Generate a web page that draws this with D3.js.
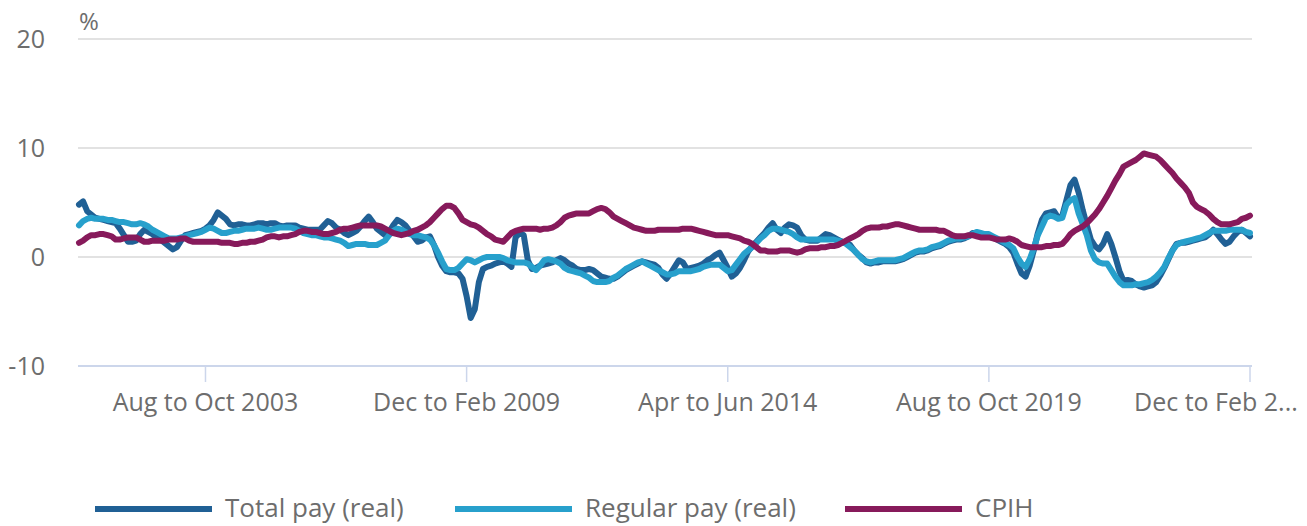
<!DOCTYPE html>
<html>
<head>
<meta charset="utf-8">
<script src="https://cdn.jsdelivr.net/npm/d3@7"></script>
<style>
  body { margin: 0; background: #fff; }
  svg text { font-family: "Open Sans", sans-serif; }
</style>
</head>
<body>
<div id="viz"></div>
<script>
// first period is Jan to Mar 2001, monthly rolling 3-month periods to Dec to Feb 2025
var startYear = 2001, startEndMonth = 3; // end month of first period
var months = ['Jan','Feb','Mar','Apr','May','Jun','Jul','Aug','Sep','Oct','Nov','Dec'];

var totalPay = [
  4.8,5.1,4.2,3.9,3.6,3.5,3.4,3.3,3.2,3.1,
  2.6,2.0,1.4,1.4,1.5,2.1,2.5,2.3,2.1,1.8,1.6,1.3,
  1.0,0.7,0.9,1.5,2.0,2.1,2.2,2.3,2.4,2.6,2.9,3.4,
  4.1,3.8,3.5,3.0,2.9,3.0,3.0,2.9,2.9,3.0,3.1,3.1,
  3.0,3.1,3.1,2.9,2.8,2.9,2.9,2.9,2.7,2.6,2.5,2.5,
  2.5,2.5,2.9,3.3,3.1,2.7,2.5,2.2,2.0,2.2,2.4,2.8,
  3.3,3.7,3.2,2.6,2.3,2.0,2.3,2.9,3.4,3.2,2.9,2.4,
  1.9,1.4,1.5,1.8,1.9,1.1,0.0,-0.8,-1.3,-1.4,-1.4,-1.5,
  -2.0,-3.6,-5.6,-4.8,-2.3,-1.1,-0.9,-0.8,-0.6,-0.5,-0.4,-0.6,
  -0.9,1.8,2.2,2.0,-0.3,-1.1,-1.0,-0.8,-0.7,-0.6,-0.5,-0.3,
  -0.1,-0.3,-0.6,-0.8,-1.1,-1.2,-1.2,-1.1,-1.2,-1.5,-1.8,-1.9,
  -2.0,-2.0,-1.8,-1.5,-1.2,-1.0,-0.8,-0.6,-0.4,-0.5,-0.6,-0.7,
  -1.0,-1.6,-2.0,-1.5,-0.9,-0.3,-0.5,-1.1,-1.0,-0.9,-0.8,-0.6,
  -0.3,-0.1,0.2,0.4,-0.3,-1.0,-1.8,-1.5,-1.0,-0.3,0.5,1.0,
  1.4,1.8,2.2,2.7,3.1,2.5,2.2,2.7,3.0,2.9,2.7,2.0,
  1.6,1.5,1.5,1.5,1.8,2.1,2.0,1.8,1.6,1.4,1.3,1.1,
  0.6,0.2,-0.1,-0.5,-0.6,-0.5,-0.5,-0.4,-0.4,-0.4,-0.4,-0.3,
  -0.2,0.0,0.2,0.4,0.5,0.5,0.6,0.8,0.9,1.0,1.2,1.4,
  1.5,1.6,1.6,1.7,1.9,2.2,2.2,2.1,2.0,2.0,1.8,1.6,
  1.4,1.2,0.9,0.4,-0.6,-1.5,-1.8,-0.8,0.6,2.2,3.4,4.0,
  4.1,4.2,3.6,3.8,5.2,6.6,7.1,5.9,4.3,2.9,1.6,1.0,
  0.7,1.2,2.1,1.2,0.0,-1.3,-2.2,-2.1,-2.2,-2.5,-2.7,-2.8,
  -2.7,-2.6,-2.3,-1.7,-1.0,-0.2,0.6,1.2,1.3,1.3,1.4,1.5,
  1.6,1.7,1.8,2.1,2.5,2.1,1.6,1.2,1.4,1.9,2.3,2.5,
  2.2,1.9
];

var regularPay = [
  2.9,3.3,3.5,3.6,3.5,3.5,3.5,3.4,3.4,3.3,
  3.2,3.2,3.1,3.0,3.0,3.1,3.0,2.8,2.5,2.3,2.1,1.9,
  1.7,1.7,1.7,1.8,1.9,2.0,2.1,2.2,2.3,2.5,2.7,2.6,
  2.4,2.2,2.2,2.3,2.4,2.4,2.5,2.6,2.6,2.6,2.7,2.6,
  2.5,2.5,2.6,2.7,2.7,2.7,2.7,2.6,2.4,2.2,2.1,2.0,
  2.0,1.9,1.8,1.8,1.7,1.6,1.5,1.3,1.0,1.1,1.2,1.2,
  1.2,1.1,1.1,1.1,1.3,1.5,2.0,2.4,2.6,2.5,2.3,2.1,
  2.0,2.0,1.9,1.8,1.6,1.1,0.4,-0.4,-1.1,-1.2,-1.2,-1.0,
  -0.6,-0.2,-0.3,-0.5,-0.3,-0.1,0.0,0.0,0.0,0.0,-0.1,-0.3,
  -0.4,-0.5,-0.5,-0.5,-0.6,-0.9,-1.2,-0.8,-0.3,-0.2,-0.3,-0.4,
  -0.6,-1.0,-1.2,-1.3,-1.4,-1.5,-1.7,-1.9,-2.2,-2.3,-2.3,-2.3,
  -2.2,-1.9,-1.7,-1.4,-1.1,-0.9,-0.7,-0.5,-0.4,-0.6,-0.8,-1.0,
  -1.2,-1.4,-1.6,-1.6,-1.5,-1.3,-1.3,-1.3,-1.3,-1.2,-1.1,-0.9,
  -0.8,-0.7,-0.7,-0.7,-1.0,-1.3,-1.2,-0.7,-0.2,0.3,0.6,0.9,
  1.3,1.7,2.0,2.4,2.6,2.6,2.5,2.4,2.3,2.1,1.8,1.6,
  1.6,1.6,1.6,1.6,1.6,1.6,1.6,1.6,1.5,1.4,1.2,0.9,
  0.6,0.2,-0.2,-0.4,-0.5,-0.4,-0.3,-0.3,-0.3,-0.3,-0.3,-0.2,
  -0.1,0.1,0.3,0.5,0.6,0.6,0.7,0.9,1.0,1.1,1.3,1.5,
  1.6,1.7,1.7,1.8,1.9,2.1,2.3,2.2,2.1,2.1,1.9,1.7,
  1.5,1.3,1.1,0.8,0.0,-0.6,-0.9,-0.2,0.8,2.0,2.8,3.6,
  3.8,3.7,3.5,3.6,4.8,5.2,5.4,4.0,3.0,2.0,0.6,-0.2,
  -0.5,-0.6,-0.6,-1.2,-1.8,-2.3,-2.6,-2.6,-2.6,-2.5,-2.5,-2.4,
  -2.3,-2.1,-1.8,-1.4,-0.9,-0.1,0.6,1.1,1.3,1.4,1.5,1.6,
  1.7,1.8,2.0,2.2,2.4,2.4,2.4,2.4,2.5,2.5,2.5,2.5,
  2.3,2.2
];

var cpih = [
  1.3,1.5,1.8,2.0,2.0,2.1,2.1,2.0,1.9,1.6,
  1.6,1.7,1.8,1.8,1.8,1.6,1.4,1.4,1.5,1.5,1.5,1.5,
  1.6,1.6,1.6,1.7,1.7,1.5,1.4,1.4,1.4,1.4,1.4,1.4,
  1.4,1.3,1.3,1.3,1.2,1.2,1.3,1.3,1.4,1.4,1.5,1.6,
  1.8,1.9,1.9,1.8,1.9,1.9,2.0,2.1,2.3,2.4,2.4,2.3,
  2.3,2.2,2.1,2.1,2.2,2.3,2.5,2.6,2.6,2.7,2.8,2.9,
  2.9,2.9,2.9,2.9,2.8,2.6,2.4,2.2,2.1,2.0,2.1,2.2,
  2.4,2.5,2.7,2.9,3.2,3.6,4.0,4.4,4.7,4.7,4.5,4.0,
  3.4,3.2,3.0,2.9,2.7,2.4,2.1,1.9,1.6,1.5,1.4,1.8,
  2.2,2.4,2.5,2.6,2.6,2.6,2.6,2.5,2.6,2.6,2.7,2.9,
  3.2,3.6,3.8,3.9,4.0,4.0,4.0,4.0,4.2,4.4,4.5,4.4,
  4.1,3.7,3.5,3.3,3.1,2.9,2.7,2.6,2.5,2.4,2.4,2.4,
  2.5,2.5,2.5,2.5,2.5,2.5,2.6,2.6,2.6,2.5,2.4,2.3,
  2.2,2.1,2.0,2.0,2.0,2.0,1.9,1.8,1.7,1.5,1.4,1.2,
  0.9,0.6,0.6,0.5,0.5,0.5,0.6,0.6,0.6,0.5,0.4,0.5,
  0.7,0.8,0.8,0.8,0.9,0.9,1.0,1.0,1.1,1.3,1.5,1.7,
  1.9,2.1,2.4,2.6,2.7,2.7,2.7,2.8,2.8,2.9,3.0,3.0,
  2.9,2.8,2.7,2.6,2.5,2.5,2.5,2.5,2.5,2.4,2.4,2.2,
  2.0,1.9,1.9,1.9,2.0,2.0,1.9,1.8,1.8,1.8,1.7,1.6,
  1.6,1.6,1.7,1.6,1.4,1.1,1.0,0.9,0.9,0.9,0.9,1.0,
  1.0,1.1,1.1,1.2,1.6,2.1,2.4,2.6,2.8,3.1,3.5,3.9,
  4.4,5.0,5.6,6.3,7.0,7.6,8.3,8.5,8.7,8.9,9.2,9.5,
  9.4,9.3,9.2,8.9,8.5,8.1,7.7,7.2,6.8,6.4,5.9,5.0,
  4.6,4.4,4.2,3.9,3.5,3.2,3.0,3.0,3.0,3.1,3.2,3.5,
  3.6,3.8
];

var yTicks = [-10, 0, 10, 20];
var xTickIdx = [31, 95, 159, 223, 287];
var seriesNames = ['Total pay (real)', 'Regular pay (real)', 'CPIH'];
var seriesColors = ['#206095', '#27a0cc', '#871a5b'];

// category labels like "Dec to Feb 2009"
var periods = totalPay.map(function(d, i) {
  var e = startEndMonth - 1 + i;
  var y = startYear + Math.floor(e / 12);
  var em = e % 12;
  var sm = (em + 10) % 12;
  return months[sm] + ' to ' + months[em] + ' ' + y;
});

var width = 1307, height = 526;
var svg = d3.select('#viz').append('svg')
  .attr('width', width)
  .attr('height', height);

var x = d3.scaleLinear()
  .domain([0, periods.length - 1])
  .range([79, 1250]);
var y = d3.scaleLinear()
  .domain([-10, 20])
  .range([366, 39]);

// grid
svg.append('g')
  .selectAll('line')
  .data(yTicks.filter(d => d !== -10))
  .join('line')
  .attr('x1', 78).attr('x2', 1252)
  .attr('y1', d => y(d)).attr('y2', d => y(d))
  .attr('stroke', '#e2e2e2')
  .attr('stroke-width', 2);

svg.append('g')
  .selectAll('text')
  .data(yTicks)
  .join('text')
  .attr('x', 45)
  .attr('y', d => y(d) + 9)
  .attr('text-anchor', 'end')
  .attr('font-size', 25)
  .attr('fill', '#6d6d6d')
  .text(d => d);

svg.append('text')
  .attr('x', 79).attr('y', 30)
  .attr('font-size', 24)
  .attr('fill', '#6d6d6d')
  .text('%');

// x axis
svg.append('line')
  .attr('x1', 78).attr('x2', 1252)
  .attr('y1', y(-10)).attr('y2', y(-10))
  .attr('stroke', '#ccd6eb')
  .attr('stroke-width', 2);

svg.append('g')
  .selectAll('line')
  .data(xTickIdx)
  .join('line')
  .attr('x1', d => x(d)).attr('x2', d => x(d))
  .attr('y1', y(-10)).attr('y2', y(-10) + 16)
  .attr('stroke', '#ccd6eb')
  .attr('stroke-width', 1.5);

svg.append('g')
  .selectAll('text')
  .data(xTickIdx)
  .join('text')
  .attr('x', d => x(d))
  .attr('y', 411)
  .attr('text-anchor', 'middle')
  .attr('font-size', 25)
  .attr('fill', '#6d6d6d')
  .text(d => periods[d])
  .each(function(d) {
    // truncate labels running past the right edge
    var t = d3.select(this);
    var full = periods[d];
    var n = full.length;
    while (this.getBBox().x + this.getBBox().width > width - 8 && n > 1) {
      n--;
      t.text(full.slice(0, n) + '...');
      t.attr('text-anchor', 'start').attr('x', 1134);
    }
  });

// lines
var line = d3.line()
  .x((d, i) => x(i))
  .y(d => y(d));

[totalPay, regularPay, cpih].forEach(function(s, k) {
  svg.append('path')
    .datum(s)
    .attr('fill', 'none')
    .attr('stroke', seriesColors[k])
    .attr('stroke-width', 6)
    .attr('stroke-linejoin', 'round')
    .attr('stroke-linecap', 'round')
    .attr('d', line);
});

// legend
var legX = [95, 455, 845];
var leg = svg.append('g')
  .selectAll('g')
  .data(seriesNames)
  .join('g')
  .attr('transform', (d, i) => 'translate(' + legX[i] + ',509)');
leg.append('line')
  .attr('x1', 0).attr('x2', 117)
  .attr('stroke', (d, i) => seriesColors[i])
  .attr('stroke-width', 6);
leg.append('text')
  .attr('x', 130).attr('y', 8)
  .attr('font-size', 26)
  .attr('fill', '#6d6d6d')
  .text(d => d);
</script>
</body>
</html>
